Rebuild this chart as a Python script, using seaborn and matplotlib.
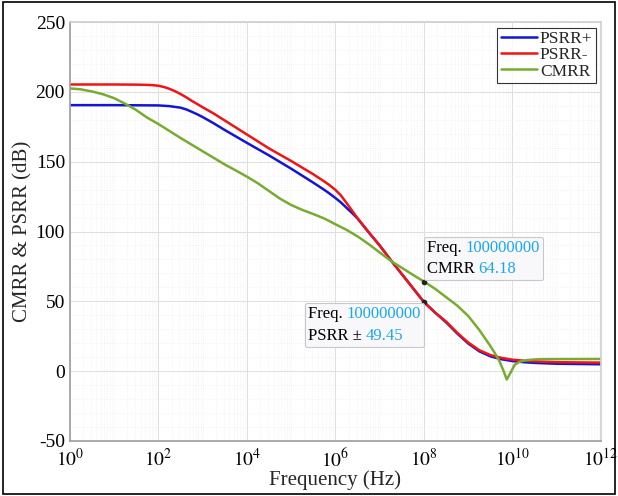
import numpy as np
import pandas as pd
import matplotlib
matplotlib.use("Agg")
import matplotlib.pyplot as plt
import matplotlib.ticker as mticker
from matplotlib.patches import Rectangle
from matplotlib.offsetbox import TextArea, HPacker, VPacker, AnnotationBbox
import seaborn as sns

# frequency exponents (log10 Hz) and read-off dB values
psrr_p_exp = [0, 1, 2, 2.25, 2.5, 2.625, 2.75, 2.875, 3, 3.25, 3.5, 4, 4.5, 5, 5.5,
              5.75, 5.875, 6, 6.125, 6.25, 6.375, 6.5, 6.75, 7, 7.25, 7.5, 7.75, 8,
              8.25, 8.5, 8.75, 9, 9.25, 9.5, 9.75, 10, 10.25, 10.5, 11, 12]
psrr_p_db = [190.5, 190.5, 190.3, 189.8, 188.7, 187.5, 185.8, 184, 182, 177.5, 172.7,
             163.5, 154.5, 145, 135, 129.8, 127, 124, 120.8, 117, 113.3, 109.3, 99.5,
             90, 79.5, 69.5, 59.5, 49.45, 42, 35, 27, 19.8, 14.2, 10.6, 8.5, 7.2, 6.4,
             5.9, 5.3, 4.9]

psrr_m_exp = [0, 1, 1.5, 1.75, 1.875, 2, 2.125, 2.25, 2.375, 2.5, 2.625, 2.75, 3,
              3.25, 3.5, 4, 4.5, 5, 5.5, 5.75, 5.875, 6, 6.125, 6.25, 6.375, 6.5, 6.75,
              7, 7.25, 7.5, 7.75, 8, 8.25, 8.5, 8.75, 9, 9.25, 9.5, 9.75, 10, 10.25,
              10.5, 11, 12]
psrr_m_db = [205.3, 205.3, 205.2, 205, 204.8, 204.4, 203.5, 202.2, 200.5, 198.5,
             196.2, 193.7, 189, 184.5, 179.5, 169.5, 159.5, 150.5, 141, 135.8, 133,
             129.8, 125.8, 120.5, 115, 109.5, 99.5, 90, 79.5, 69.5, 59.5, 49.45, 42,
             35.5, 27.5, 20.5, 15, 11.5, 9.5, 8.2, 7.5, 7, 6.4, 6.1]

cmrr_exp = [0, 0.25, 0.5, 0.75, 1, 1.25, 1.5, 1.75, 2, 2.5, 3, 3.5, 3.75, 4, 4.25,
            4.5, 4.75, 5, 5.25, 5.5, 5.75, 6, 6.25, 6.5, 6.75, 7, 7.25, 7.5, 7.75, 8,
            8.25, 8.5, 8.75, 9, 9.25, 9.5, 9.6, 9.7, 9.8, 9.87, 9.95, 10.05, 10.15,
            10.3, 10.5, 10.7, 12]
cmrr_db = [202.5, 201.8, 200.3, 198.3, 195.5, 191.5, 187, 181.5, 177, 167, 157.5,
           148, 143.7, 139.3, 134.5, 129, 123.5, 119, 115.5, 112.5, 109.3, 105.2,
           101.2, 96.5, 91, 85, 79, 74, 69, 64.18, 59, 53, 47, 39.5, 29.5, 18, 13, 7.5,
           0, -6, -1.5, 4.5, 6.6, 7.8, 8.4, 8.6, 8.7]

series_names = ["PSRR+", "PSRR-", "CMRR"]
series_colors = ["#1414d8", "#f01414", "#77ac30"]

tip_freq = 1e8
tip_cmrr = 64.18
tip_psrr = 49.45

frames = []
for name, e, v in zip(series_names, [psrr_p_exp, psrr_m_exp, cmrr_exp],
                      [psrr_p_db, psrr_m_db, cmrr_db]):
    frames.append(pd.DataFrame({"freq": 10.0 ** np.array(e), "db": v, "curve": name}))
df = pd.concat(frames, ignore_index=True)

sns.set_theme(style="white")
plt.rcParams["font.family"] = ["Liberation Serif", "DejaVu Serif"]
plt.rcParams["mathtext.fontset"] = "stix"
plt.rcParams["axes.unicode_minus"] = False

fig = plt.figure(figsize=(6.18, 4.96), dpi=100)
ax = fig.add_axes([0.113, 0.111, 0.8595, 0.8445])

sns.lineplot(data=df, x="freq", y="db", hue="curve", palette=series_colors,
             hue_order=series_names, linewidth=1.8, sort=False, ax=ax)
ax.set_xscale("log")
ax.set_xlim(1, 1e12)
ax.set_ylim(-50, 250)

ax.xaxis.set_major_locator(mticker.FixedLocator([10.0 ** k for k in range(0, 13, 2)]))
ax.xaxis.set_major_formatter(mticker.FuncFormatter(lambda x, p: r"$10^{%d}$" % round(np.log10(x))))
minor = [m * 10.0 ** k for k in range(0, 12) for m in range(2, 10)] + \
        [10.0 ** k for k in range(1, 12, 2)]
ax.xaxis.set_minor_locator(mticker.FixedLocator(minor))
ax.xaxis.set_minor_formatter(mticker.NullFormatter())
ax.yaxis.set_major_locator(mticker.MultipleLocator(50))
ax.yaxis.set_minor_locator(mticker.MultipleLocator(10))

ax.grid(True, which="major", color="#dedede", linewidth=0.7)
ax.grid(True, which="minor", color="#ececec", linewidth=0.5, linestyle=":")
ax.tick_params(which="both", direction="in", colors="#555555", labelcolor="black",
               labelsize=14, width=0.6)
ax.tick_params(which="major", length=4)
ax.tick_params(which="minor", length=2)
ax.tick_params(axis="x", pad=5)
for side in ["left", "bottom"]:
    ax.spines[side].set_color("#a0a0a0")
for side in ["top", "right"]:
    ax.spines[side].set_color("#d0d0d0")

ax.set_xlabel("Frequency (Hz)", fontsize=15, labelpad=0)
ax.set_ylabel("CMRR & PSRR (dB)", fontsize=15, labelpad=2)

leg = ax.legend(loc="upper right", bbox_to_anchor=(0.997, 0.995), fontsize=12.5,
                frameon=True, fancybox=False, edgecolor="black", handlelength=2.1,
                handletextpad=0.15, borderpad=0.2, labelspacing=0.0, borderaxespad=0.2)
leg.get_frame().set_linewidth(0.8)
for line in leg.get_lines():
    line.set_linewidth(1.8)

# data tips
ax.plot([tip_freq, tip_freq], [tip_cmrr, tip_psrr], "o", color="#222222", markersize=3)
cyan = "#1aa7f0"


def data_tip(label1, value1, label2, value2, xy, align, offset):
    row1 = HPacker(children=[TextArea(label1, textprops=dict(color="black", fontsize=12)),
                             TextArea(value1, textprops=dict(color=cyan, fontsize=12))],
                   pad=0, sep=0)
    row2 = HPacker(children=[TextArea(label2, textprops=dict(color="black", fontsize=12)),
                             TextArea(value2, textprops=dict(color=cyan, fontsize=12))],
                   pad=0, sep=0)
    pack = VPacker(children=[row1, row2], pad=0, sep=4, align="left")
    ab = AnnotationBbox(pack, xy, xybox=offset, boxcoords="offset points",
                        box_alignment=align, frameon=True, pad=0.35,
                        bboxprops=dict(boxstyle="round,pad=0.2,rounding_size=0.15",
                                       facecolor="#f8f8fb", edgecolor="#c8c8c8",
                                       linewidth=0.8))
    ax.add_artist(ab)


data_tip("Freq. ", "100000000", "CMRR ", "64.18", (tip_freq, tip_cmrr), (0, 0), (2, 3))
data_tip("Freq. ", "100000000", "PSRR \u00b1 ", "49.45", (tip_freq, tip_psrr), (1, 1), (-2, -3))

fig.patches.append(Rectangle((0.005, 0.005), 0.99, 0.99, transform=fig.transFigure,
                             fill=False, edgecolor="black", linewidth=1.2))

fig.savefig("out.png", dpi=100)
